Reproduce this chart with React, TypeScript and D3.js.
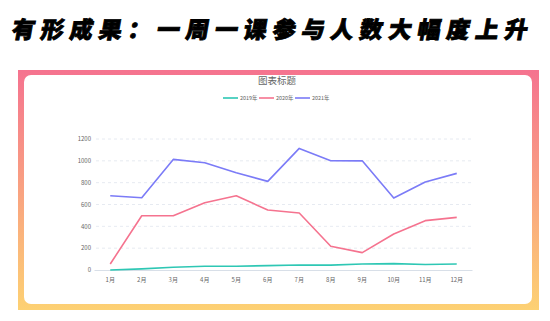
import React from "react";
import * as d3 from "d3";

const months = ["1月", "2月", "3月", "4月", "5月", "6月", "7月", "8月", "9月", "10月", "11月", "12月"];
const series2019 = [0, 10, 25, 35, 35, 40, 46, 45, 55, 58, 50, 55];
const series2020 = [55, 497, 497, 616, 680, 549, 522, 217, 159, 330, 452, 482];
const series2021 = [680, 662, 1013, 983, 891, 812, 1114, 1001, 1000, 659, 806, 885];
const seriesNames = ["2019年", "2020年", "2021年"];
const seriesColors = ["#2ec7b4", "#f5738f", "#7b7bf7"];
const yTicks = [0, 200, 400, 600, 800, 1000, 1200];
const pageTitle = "有形成果：一周一课参与人数大幅度上升";
const chartTitle = "图表标题";

export default function App() {
  const W = 550, H = 321;
  const x = d3.scaleBand<string>().domain(months).range([94.5, 472.5]);
  const y = d3.scaleLinear().domain([0, 1200]).range([270, 139]);
  const line = d3.line<number>()
    .x((_, i) => (x(months[i]) as number) + x.bandwidth() / 2)
    .y((d) => y(d));
  const allSeries = [series2019, series2020, series2021];
  const font = "'Noto Sans CJK SC', 'Noto Sans', sans-serif";
  const legendStart = 223;
  const legendPitch = 36;
  return (
    <svg width={W} height={H} style={{ position: "absolute", left: 0, top: 0, display: "block" }}>
      <defs>
        <linearGradient id="frame" x1="0" y1="0" x2="0" y2="1">
          <stop offset="0%" stopColor="#f5738f" />
          <stop offset="100%" stopColor="#fdd173" />
        </linearGradient>
      </defs>
      <rect x={0} y={0} width={W} height={H} fill="#ffffff" />
      <text
        x={11}
        y={38}
        fontFamily={font}
        fontWeight={900}
        fontSize={23}
        letterSpacing={6}
        fill="#000"
        stroke="#000"
        strokeWidth={0.9}
        transform="skewX(-10) translate(6.5,0)"
      >
        {pageTitle}
      </text>
      <rect x={18} y={70} width={521} height={240} fill="url(#frame)" />
      <rect x={24} y={75} width={508} height={229} rx={7} ry={7} fill="#ffffff" />
      <text x={277} y={84} textAnchor="middle" fontFamily={font} fontSize={9.5} fill="#666">
        {chartTitle}
      </text>
      {seriesNames.map((n, i) => (
        <g key={n}>
          <line
            x1={legendStart + i * legendPitch}
            x2={legendStart + i * legendPitch + 15}
            y1={98}
            y2={98}
            stroke={seriesColors[i]}
            strokeWidth={1.6}
          />
          <text
            x={legendStart + i * legendPitch + 17}
            y={100}
            fontFamily={font}
            fontSize={5.4}
            fill="#666"
          >
            {n}
          </text>
        </g>
      ))}
      {yTicks.map((t) => (
        <g key={t}>
          {t > 0 && (
            <line x1={96} x2={472.5} y1={y(t)} y2={y(t)} stroke="#dfe5ee" strokeWidth={0.8} strokeDasharray="3,3" />
          )}
          <text x={91} y={y(t) + 2.2} textAnchor="end" fontFamily={font} fontSize={6} fill="#666">
            {t}
          </text>
        </g>
      ))}
      <line x1={94.5} x2={472.5} y1={270.5} y2={270.5} stroke="#d8dfe8" strokeWidth={1} />
      {months.map((m) => (
        <text
          key={m}
          x={(x(m) as number) + x.bandwidth() / 2}
          y={282}
          textAnchor="middle"
          fontFamily={font}
          fontSize={6}
          fill="#666"
        >
          {m}
        </text>
      ))}
      {allSeries.map((s, i) => (
        <path key={i} d={line(s) as string} fill="none" stroke={seriesColors[i]} strokeWidth={1.6} strokeLinejoin="round" />
      ))}
    </svg>
  );
}
